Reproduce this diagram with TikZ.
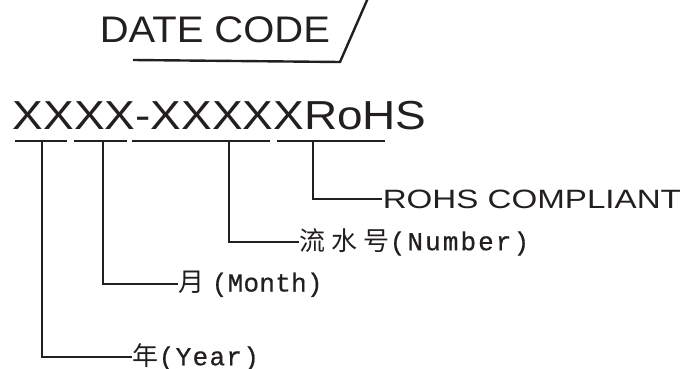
\documentclass[tikz,border=0pt]{standalone}
\usepackage{fontspec}
\setmainfont{Liberation Sans}
\newfontfamily\cjk{Noto Sans CJK SC}
\newfontfamily\mono[FakeBold=0.6]{Liberation Mono}
\definecolor{ink}{RGB}{35,31,32}
\usetikzlibrary{positioning}

\begin{document}
\begin{tikzpicture}[x=1pt,y=-1pt,line width=1.6pt,draw=ink,
    tag/.style={anchor=west,inner sep=0pt,text=ink,font=\fontsize{26}{30}\selectfont},
    big/.style={anchor=base west,inner sep=0pt,text=ink}]
    \useasboundingbox (0,0) rectangle (690,369);
    % title with its bent underline
    \node[big,font=\fontsize{37}{40}\selectfont\addfontfeature{FakeStretch=1.08}] (title) at (99,42) {DATE CODE};
    \draw[line width=2.4pt] (133,60) -- (340,62) -- (368,-2);
    % part number and its underlines
    \node[big,font=\fontsize{40.5}{48}\selectfont\addfontfeature{FakeStretch=1.135}] (code) at (12,129) {XXXX-XXXXXRoHS};
    \foreach \a/\b in {15/67,74/127,132/270,277/385}
      \draw (\a,141) -- (\b,141);
    \coordinate (yr) at (42,141);
    \coordinate (mo) at (103,141);
    \coordinate (nr) at (229,141);
    \coordinate (rh) at (313,141);
    % labels
    \node[tag] (rohs) at (382,199) {\fontsize{26.5}{30}\selectfont\addfontfeature{FakeStretch=1.25}ROHS COMPLIANT};
    \node[tag] (num) at (299,242) {\cjk 流\hspace{6pt}水\hspace{6pt}号\mono\addfontfeature{LetterSpace=8}(Number)};
    \node[tag] (mon) at (178,284) {\cjk 月\hspace{7pt}\mono\addfontfeature{LetterSpace=1}(Month)};
    \node[tag] (year) at (132,357) {\cjk 年\mono\addfontfeature{LetterSpace=5}(Year)};
    \draw (rh) |- (rohs.west);
    \draw (nr) |- (num.west);
    \draw (mo) |- (mon.west);
    \draw (yr) |- (year.west);
\end{tikzpicture}
\end{document}
